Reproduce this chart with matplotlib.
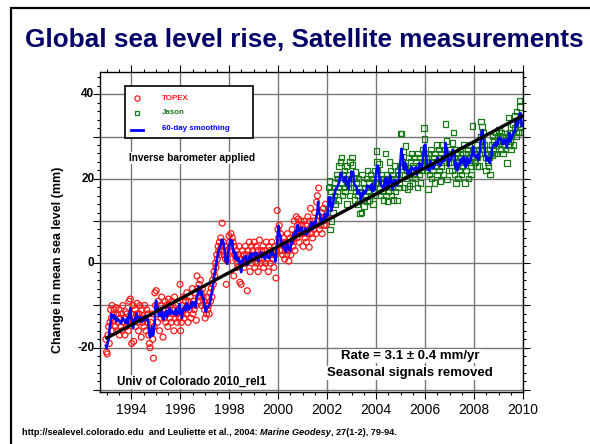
import numpy as np
import pandas as pd
import matplotlib
matplotlib.use("Agg")
import matplotlib.pyplot as plt
from matplotlib.patches import Rectangle
from matplotlib.lines import Line2D
from matplotlib.ticker import MultipleLocator

plt.rcParams['font.family'] = ['Liberation Sans', 'DejaVu Sans']

# ~10-day cycles, values in mm
CYCLE = 1 / 36
TOPEX_START = 1992.96
JASON_START = 2002.04

topex_values = [
    -18, -21, -21.5, -17, -15, -19, -14, -11, -13, -10, -16, -12, -11, -13.5, -15, -10.5, -16, -12,
    -14, -11, -17, -13, -15, -12, -16, -10, -14, -13, -17, -11.5, -15, -12, -14, -16, -9, -13,
    -8.5, -12, -19, -14, -10, -18.5, -13, -11, -15, -12, -9.5, -14, -16, -12, -10, -13, -17.5, -11,
    -14, -12.5, -15, -10, -13, -16, -11, -14, -12, -17, -19, -20, -14, -16, -12, -18, -22.5, -15,
    -7, -10, -6.5, -12, -14, -9, -11, -16, -10, -13, -8, -12, -17.5, -11, -13, -9, -14, -10,
    -12, -15, -8.5, -11, -13, -10, -14, -9, -12, -11, -16, -8, -13, -10, -12, -14, -9.5, -11,
    -13, -5, -16, -14, -12, -10, -8, -13, -11, -9, -12, -7, -10, -14, -9, -11, -8, -13,
    -10, -6, -12, -9, -11, -7, -10, -13.5, -3, -6, -8, -5, -9, -4, -7, -10, -6, -8,
    -9, -11, -13, -10, -12, -8, -11, -10, -12, -7, -9, -6, -8, -4, -5, -2, -3, 0,
    -1, 2, 1, 4, 3, 5, 2, 6, 4, 9.5, 3, 5, 2, 4, 1, -5, 3, 0.5,
    2, 6.5, 5, 4, 7, 3, 6, 5, -3, 4, 2, 1, 3, 0, -1, 2, 4, -4.5,
    1, -5, 0, 3, 2, -1, 1, 4, 0, 2, -6.5, 3, 1, 5, -2, 2, 4, 0,
    3, 1, 5, -1, 2, 4, 0, 3, -2, 1, 5.5, 2, 0, 3, 1, 4, -1, 2,
    3, 0, 5, 1, 2, -2, 4, 3, 0, 2, 5, 1, 3, -1, 4, 2, -3.5, 3,
    12.5, 8, 6, 9, 5, 7, 3, 5, 2, 6, 4, 1, 3, 5, 2, 7, 4, 0.5,
    3, 6, 2, 5, 8, 4, 6, 10, 3, 7, 11, 6, 9, 10.5, 5, 8, 7, 10,
    9, 7, 4, 8, 10, 6, 9, 5, 7, 11, 8, 3.8, 10, 13, 7, 9, 6, 10,
    8, 12, 9, 7, 14.5, 16, 10, 17.8, 8, 11, 9, 12, 7, 10, 13, 9, 11, 14,
    9, 11, 12,
]

jason_values = [
    13, 18, 19.5, 8, 17, 10, 15, 12, 18, 16, 19, 14, 21, 17, 20, 15, 23, 18,
    24, 19, 25, 16, 21, 18, 22, 17, 20, 23, 14, 19, 21, 16, 24, 18, 20, 25,
    23.3, 18, 20, 15, 21.6, 17, 19, 14, 16, 20, 18, 11.8, 17, 12, 21, 15, 19, 13.6,
    18, 16, 20, 14.6, 22, 17, 19, 15, 21, 16, 18, 20, 14, 17, 22, 16, 19, 26.6,
    24, 22, 20, 23.5, 18, 16, 21, 19, 17, 15, 20, 18, 26, 16, 21, 14.6, 19, 17,
    24, 20, 22, 16, 18, 21, 15, 19, 23, 17, 20, 14.8, 22, 18, 21, 19, 30.8, 23,
    30.8, 24, 21, 26.5, 18, 23, 27.8, 20, 22, 17.6, 25, 21, 18.3, 24, 22, 26, 19, 23,
    21, 25, 20, 24, 22, 18, 26, 23, 21, 25, 19, 24, 22, 27, 23, 32, 29.4, 26,
    25, 22, 24, 17.6, 26, 21, 23, 27, 20, 24, 22, 25, 19, 26, 23, 28, 21, 24,
    27, 22, 25, 19.5, 26, 23, 28, 24, 21, 27, 25, 33, 29, 19.8, 26, 24, 22, 27,
    24, 26, 22, 28.5, 31, 25, 21, 27, 19, 23, 26, 20, 24, 22, 27, 25, 21, 26,
    23, 28, 24, 19, 26, 22, 25, 27, 20, 24, 28, 23, 21, 26, 32.5, 25, 27, 24,
    26, 24, 28, 23, 25, 27, 23, 26, 30, 33.6, 32.4, 29, 31, 27, 28, 25, 22, 26,
    24, 27, 23, 25, 21, 26, 28, 25.5, 30, 27, 29, 26, 31, 28, 26, 30, 29, 31.6,
    28.5, 30, 27, 31, 29, 26, 30, 28, 32, 27, 29, 23.7, 30, 34.5, 28, 31, 29, 27,
    30, 33, 31, 28, 32, 35, 30, 36, 33, 31, 34, 38.6, 37, 32.5, 34, 31,
]

TREND_RATE = 3.1      # mm/yr
TREND_AT_2000 = 4.0   # mm
TREND_SPAN = [1993.0, 2009.95]

x_ticks = list(range(1994, 2011, 2))
y_ticks = [-20, 0, 20, 40]

topex_t = TOPEX_START + CYCLE * np.arange(len(topex_values))
jason_t = JASON_START + CYCLE * np.arange(len(jason_values))

combined = pd.Series(np.r_[topex_values, jason_values], index=np.r_[topex_t, jason_t]).sort_index()
smooth = combined.rolling(4, center=True, min_periods=1).mean()

trend_t = np.array(TREND_SPAN)
trend_v = TREND_AT_2000 + TREND_RATE * (trend_t - 2000)

W, H = 590, 444
fig = plt.figure(figsize=(W / 100, H / 100), dpi=100)

# slide frame
fig.add_artist(Rectangle((11 / W, -0.1), 1.2, 1 - 8 / H + 0.1, transform=fig.transFigure,
                         fill=False, edgecolor='black', linewidth=1.6))
fig.text(304 / W, 1 - 40 / H, 'Global sea level rise, Satellite measurements', ha='center', va='center',
         fontsize=18.8, fontweight='bold', color='#000066')

ax = fig.add_axes([100 / W, 1 - 392 / H, 423 / W, 320 / H])
ax.set_xlim(1992.72, 2010.0)
ax.set_ylim(-30.5, 45.3)

ax.scatter(topex_t, topex_values, s=18, facecolors='none', edgecolors='#ff1a1a', linewidths=0.9, zorder=2)
ax.scatter(jason_t, jason_values, s=15, marker='s', facecolors='none', edgecolors='#1a7a1a',
           linewidths=0.9, zorder=2)
ax.plot(smooth.index, smooth.values, color='#0000ff', lw=1.8, zorder=3)
ax.plot(trend_t, trend_v, color='black', lw=2.4, zorder=4)

ax.set_xticks(x_ticks)
ax.set_xticklabels([str(t) for t in x_ticks])
ax.xaxis.set_minor_locator(MultipleLocator(0.5))
ax.yaxis.set_major_locator(MultipleLocator(10))
ax.yaxis.set_minor_locator(MultipleLocator(2))
ax.set_yticklabels([])
ax.grid(True, which='major', color='#777777', lw=1.0, zorder=0)
ax.set_axisbelow(True)
ax.tick_params(which='both', direction='out', top=True, right=True, width=0.8)
ax.tick_params(which='major', length=5)
ax.tick_params(which='minor', length=2.5)
ax.tick_params(axis='x', labelsize=10, pad=3)
for sp in ax.spines.values():
    sp.set_linewidth(1.0)

for v in y_ticks:
    ax.annotate(str(v), xy=(0, v), xycoords=('axes fraction', 'data'), xytext=(-4, 0),
                textcoords='offset points', ha='right', va='center', fontsize=8.5, fontweight='bold')

fig.text(58 / W, 1 - 260 / H, 'Change in mean sea level (mm)', rotation=90, ha='center', va='center',
         fontsize=9, fontweight='bold')


# legend drawn by hand to match the boxed layout
def fx(px):
    return (px - 100) / 423


def fy(py):
    return (392 - py) / 320


ax.add_patch(Rectangle((fx(125), fy(138)), fx(253) - fx(125), fy(86) - fy(138), transform=ax.transAxes,
                       facecolor='white', edgecolor='black', lw=1.2, zorder=6))
legend_rows = [('TOPEX', '#ff1a1a', 98), ('Jason', '#1a7a1a', 113), ('60-day smoothing', '#0000ff', 128)]
ax.add_line(Line2D([fx(137)], [fy(98)], marker='o', ms=3.8, mfc='none', mec='#ff1a1a', mew=0.9,
                   transform=ax.transAxes, zorder=7))
ax.add_line(Line2D([fx(137)], [fy(113)], marker='s', ms=3.4, mfc='none', mec='#1a7a1a', mew=0.9,
                   transform=ax.transAxes, zorder=7))
ax.add_line(Line2D([fx(131), fx(143)], [fy(130), fy(130)], color='#0000ff', lw=2,
                   transform=ax.transAxes, zorder=7))
for label, color, py in legend_rows:
    ax.text(fx(162), fy(py), label, color=color, fontsize=5.7, fontweight='bold', ha='left', va='center',
            transform=ax.transAxes, zorder=7)

box = dict(facecolor='white', edgecolor='none', pad=1)
ax.text(fx(192), fy(158), 'Inverse barometer applied', fontsize=7.3, fontweight='bold', ha='center',
        va='center', transform=ax.transAxes, bbox=box, zorder=5)
ax.text(fx(192), fy(382), 'Univ of Colorado 2010_rel1', fontsize=8.3, fontweight='bold', ha='center',
        va='center', transform=ax.transAxes, bbox=box, zorder=5)
ax.text(fx(410), fy(356), 'Rate = 3.1 \u00b1 0.4 mm/yr', fontsize=9.5, fontweight='bold', ha='center',
        va='center', transform=ax.transAxes, bbox=box, zorder=5)
ax.text(fx(410), fy(373), 'Seasonal signals removed', fontsize=9.5, fontweight='bold', ha='center',
        va='center', transform=ax.transAxes, bbox=box, zorder=5)

# footer: plain / bold-italic / plain pieces placed one after another
renderer = fig.canvas.get_renderer()
x_px = 22
for piece, style in [('http://sealevel.colorado.edu  and Leuliette et al., 2004: ', 'normal'),
                     ('Marine Geodesy', 'italic'), (', 27(1-2), 79-94.', 'normal')]:
    t = fig.text(x_px / W, 1 - 432 / H, piece, fontsize=6.6, fontweight='bold', style=style,
                 ha='left', va='center')
    x_px = t.get_window_extent(renderer).x1

fig.savefig('out.png', dpi=100)
